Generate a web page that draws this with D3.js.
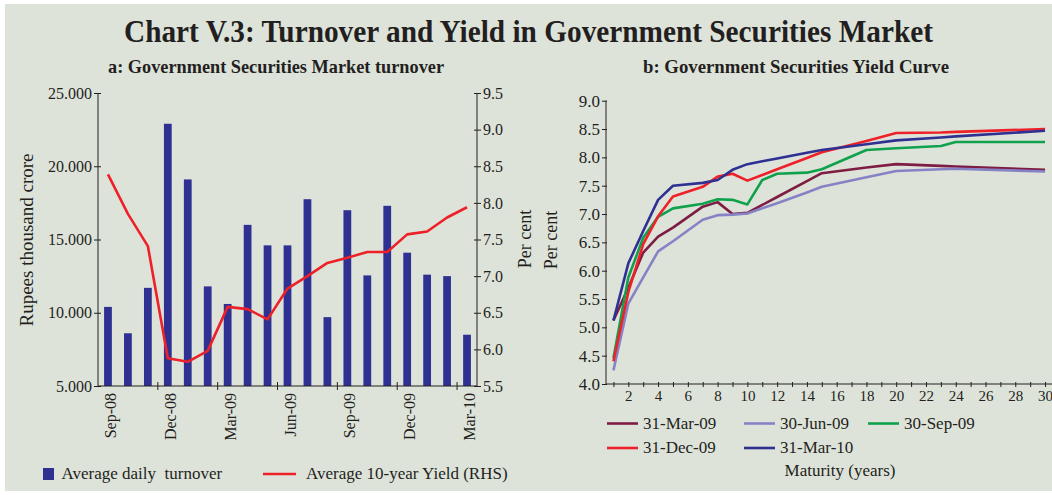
<!doctype html>
<html lang="en">
<head>
  <meta charset="utf-8">
  <title>Chart V.3: Turnover and Yield in Government Securities Market</title>
  <style>
    body {
      margin: 0;
      background: #fff;
    }
    svg {
      display: block;
      font-family: "Liberation Serif", "Times New Roman", serif;
    }
    .axis path, .axis line {
      stroke: #231f20;
      stroke-width: 1px;
    }
    .axis text {
      fill: #231f20;
    }
    .lbl {
      fill: #231f20;
    }
  </style>
</head>
<body>
  <div id="chart"></div>

  <script src="https://d3js.org/d3.v7.min.js"></script>
  <script>
    // panel a: monthly turnover and 10-year yield
    var months = ["Sep-08", "Oct-08", "Nov-08", "Dec-08", "Jan-09", "Feb-09", "Mar-09", "Apr-09", "May-09", "Jun-09",
      "Jul-09", "Aug-09", "Sep-09", "Oct-09", "Nov-09", "Dec-09", "Jan-10", "Feb-10", "Mar-10"]
    var turnover = [10.4, 8.6, 11.7, 22.9, 19.1, 11.8, 10.6, 16.0, 14.6, 14.6,
      17.75, 9.7, 17.0, 12.55, 17.3, 14.1, 12.6, 12.5, 8.5]
    var yield10 = [8.39, 7.85, 7.41, 5.88, 5.83, 5.98, 6.58, 6.55, 6.41, 6.83,
      7.00, 7.18, 7.25, 7.33, 7.33, 7.57, 7.61, 7.80, 7.94]
    var monthLabels = ["Sep-08", "Dec-08", "Mar-09", "Jun-09", "Sep-09", "Dec-09", "Mar-10"]
    var turnoverTicks = [5, 10, 15, 20, 25]
    var yieldTicks = [5.5, 6.0, 6.5, 7.0, 7.5, 8.0, 8.5, 9.0, 9.5]

    // panel b: yield curves
    var maturities = [1, 2, 3, 4, 5, 7, 8, 9, 10, 11, 12, 14, 15, 18, 20, 23, 24, 30]
    var curveDates = ["31-Mar-09", "30-Jun-09", "30-Sep-09", "31-Dec-09", "31-Mar-10"]
    var mar09 = [5.12, 5.70, 6.32, 6.60, 6.76, 7.13, 7.21, 7.00, 7.02, 7.16, 7.30, 7.58, 7.72, 7.82, 7.88, 7.85, 7.84, 7.78]
    var jun09 = [4.24, 5.42, 5.88, 6.34, 6.52, 6.90, 6.98, 6.99, 7.01, 7.10, 7.19, 7.38, 7.48, 7.65, 7.76, 7.79, 7.80, 7.75]
    var sep09 = [4.46, 5.88, 6.58, 6.95, 7.10, 7.18, 7.26, 7.25, 7.17, 7.60, 7.71, 7.73, 7.79, 8.13, 8.16, 8.20, 8.27, 8.27]
    var dec09 = [4.40, 5.62, 6.47, 6.96, 7.31, 7.48, 7.66, 7.71, 7.59, 7.69, 7.79, 7.99, 8.09, 8.29, 8.43, 8.44, 8.45, 8.50]
    var mar10 = [5.12, 6.13, 6.70, 7.25, 7.50, 7.55, 7.60, 7.78, 7.88, 7.93, 7.98, 8.08, 8.13, 8.23, 8.30, 8.35, 8.37, 8.47]
    var curveTicks = [4.0, 4.5, 5.0, 5.5, 6.0, 6.5, 7.0, 7.5, 8.0, 8.5, 9.0]
    var maturityTicks = d3.range(1, 31)

    var curveColors = ["#7d1d43", "#8682c6", "#10a14c", "#ee2129", "#2e3192"]
    var curves = [mar09, jun09, sep09, dec09, mar10]

    var W = 1052, H = 495
    var svg = d3.select("#chart").append("svg")
      .attr("width", W)
      .attr("height", H)

    svg.append("rect")
      .attr("x", 5).attr("y", 4)
      .attr("width", W - 5).attr("height", H - 8)
      .attr("fill", "#dee3da")

    svg.append("text")
      .attr("class", "lbl")
      .attr("x", 124).attr("y", 42)
      .attr("textLength", 809)
      .attr("lengthAdjust", "spacingAndGlyphs")
      .style("font-size", "31px").style("font-weight", "bold")
      .text("Chart V.3: Turnover and Yield in Government Securities Market")

    svg.append("text")
      .attr("class", "lbl")
      .attr("x", 108).attr("y", 72.5)
      .attr("textLength", 336)
      .attr("lengthAdjust", "spacingAndGlyphs")
      .style("font-size", "19px").style("font-weight", "bold")
      .text("a: Government Securities Market turnover")

    svg.append("text")
      .attr("class", "lbl")
      .attr("x", 643).attr("y", 72.5)
      .attr("textLength", 306)
      .attr("lengthAdjust", "spacingAndGlyphs")
      .style("font-size", "19px").style("font-weight", "bold")
      .text("b: Government Securities Yield Curve")

    // ---------- panel a ----------
    var xB = d3.scaleBand().domain(months).range([98, 477])
      .paddingInner(0.61).paddingOuter(0.305)
    var yL = d3.scaleLinear().domain([5, 25]).range([386, 93])
    var yR = d3.scaleLinear().domain([5.5, 9.5]).range([386, 93])

    svg.append("g")
      .selectAll("rect")
      .data(turnover)
      .enter().append("rect")
      .attr("x", function(d, i) { return xB(months[i]) })
      .attr("y", function(d) { return yL(d) })
      .attr("width", xB.bandwidth())
      .attr("height", function(d) { return yL(5) - yL(d) })
      .attr("fill", "#2e3192")

    var line10 = d3.line()
      .x(function(d, i) { return xB(months[i]) + xB.bandwidth() / 2 })
      .y(function(d) { return yR(d) })

    svg.append("path")
      .datum(yield10)
      .attr("d", line10)
      .attr("fill", "none")
      .attr("stroke", "#ee2129")
      .attr("stroke-width", 2.6)
      .attr("stroke-linejoin", "round")

    var axL = svg.append("g")
      .attr("class", "axis")
      .attr("transform", "translate(98,0)")
      .call(d3.axisLeft(yL).tickValues(turnoverTicks).tickFormat(d3.format(".3f")).tickSize(4).tickPadding(2))
    axL.select(".domain").attr("d", "M0," + yL(25) + "V" + yL(5))
    axL.selectAll(".tick line").attr("x1", 3)
    axL.selectAll("text").style("font-size", "16px").style("font-family", "Liberation Serif")

    var axR = svg.append("g")
      .attr("class", "axis")
      .attr("transform", "translate(477,0)")
      .call(d3.axisRight(yR).tickValues(yieldTicks).tickFormat(d3.format(".1f")).tickSize(4).tickPadding(2))
    axR.select(".domain").attr("d", "M0," + yR(9.5) + "V" + yR(5.5))
    axR.selectAll(".tick line").attr("x1", -3)
    axR.selectAll("text").style("font-size", "16px").style("font-family", "Liberation Serif")

    var axB = svg.append("g")
      .attr("class", "axis")
      .attr("transform", "translate(0,386)")
      .call(d3.axisBottom(xB).tickValues(monthLabels).tickSize(0))
    axB.select(".domain").attr("d", "M98,0H477")
    axB.selectAll("text")
      .attr("transform", "rotate(-90)")
      .attr("x", -7).attr("y", 8).attr("dy", 0)
      .style("text-anchor", "end")
      .style("font-size", "16px").style("font-family", "Liberation Serif")

    axB.selectAll(".qtick")
      .data([3, 6, 9, 12, 15, 18])
      .enter().append("line")
      .attr("class", "qtick")
      .attr("x1", function(d) { return 98 + d * xB.step() })
      .attr("x2", function(d) { return 98 + d * xB.step() })
      .attr("y1", -4).attr("y2", 4)

    svg.append("text")
      .attr("class", "lbl")
      .attr("transform", "translate(33,240) rotate(-90)")
      .attr("text-anchor", "middle")
      .style("font-size", "19px")
      .text("Rupees thousand crore")

    svg.append("text")
      .attr("class", "lbl")
      .attr("transform", "translate(531,239) rotate(-90)")
      .attr("text-anchor", "middle")
      .style("font-size", "18px")
      .text("Per cent")

    svg.append("rect")
      .attr("x", 43).attr("y", 468)
      .attr("width", 11).attr("height", 12)
      .attr("fill", "#2e3192")
    svg.append("text")
      .attr("class", "lbl")
      .attr("x", 61.5).attr("y", 479)
      .style("font-size", "17px")
      .style("white-space", "pre")
      .text("Average daily  turnover")
    svg.append("line")
      .attr("x1", 263).attr("x2", 296)
      .attr("y1", 474).attr("y2", 474)
      .attr("stroke", "#ee2129").attr("stroke-width", 2.6)
    svg.append("text")
      .attr("class", "lbl")
      .attr("x", 306).attr("y", 479)
      .style("font-size", "17px")
      .text("Average 10-year Yield (RHS)")

    // ---------- panel b ----------
    var xM = d3.scaleLinear().domain([0.5, 30.4]).range([606, 1051])
    var yC = d3.scaleLinear().domain([4, 9]).range([384, 100.7])

    var curveLine = d3.line()
      .x(function(d, i) { return xM(maturities[i]) })
      .y(function(d) { return yC(d) })

    svg.append("g")
      .selectAll("path")
      .data(curves)
      .enter().append("path")
      .attr("d", curveLine)
      .attr("fill", "none")
      .attr("stroke", function(d, i) { return curveColors[i] })
      .attr("stroke-width", 2.6)
      .attr("stroke-linejoin", "round")

    var axC = svg.append("g")
      .attr("class", "axis")
      .attr("transform", "translate(606,0)")
      .call(d3.axisLeft(yC).tickValues(curveTicks).tickFormat(d3.format(".1f")).tickSize(4).tickPadding(2))
    axC.select(".domain").attr("d", "M0," + yC(9) + "V" + yC(4))
    axC.selectAll(".tick line").attr("x1", 1)
    axC.selectAll("text").style("font-size", "17px").style("font-family", "Liberation Serif")

    var axM = svg.append("g")
      .attr("class", "axis")
      .attr("transform", "translate(0,384)")
      .call(d3.axisBottom(xM).tickValues(maturityTicks)
        .tickFormat(function(d) { return d % 2 === 0 ? d : "" })
        .tickSize(3).tickPadding(3))
    axM.select(".domain").attr("d", "M606,0H1052")
    axM.selectAll(".tick line").attr("y1", -2)
    axM.selectAll("text").style("font-size", "15px").style("font-family", "Liberation Serif")

    svg.append("text")
      .attr("class", "lbl")
      .attr("transform", "translate(556.5,240) rotate(-90)")
      .attr("text-anchor", "middle")
      .style("font-size", "18px")
      .text("Per cent")

    var legend = svg.append("g")
      .selectAll("g")
      .data(curveDates)
      .enter().append("g")
      .attr("transform", function(d, i) {
        var cx = [607, 744, 868]
        return "translate(" + cx[i % 3] + "," + (i < 3 ? 423.5 : 448) + ")"
      })
    legend.append("line")
      .attr("x1", 0).attr("x2", 31)
      .attr("stroke", function(d, i) { return curveColors[i] })
      .attr("stroke-width", 2.6)
    legend.append("text")
      .attr("class", "lbl")
      .attr("x", 36).attr("y", 5.3)
      .style("font-size", "17px")
      .text(function(d) { return d })

    svg.append("text")
      .attr("class", "lbl")
      .attr("x", 840).attr("y", 476)
      .attr("text-anchor", "middle")
      .style("font-size", "17px")
      .text("Maturity (years)")
  </script>
</body>
</html>
